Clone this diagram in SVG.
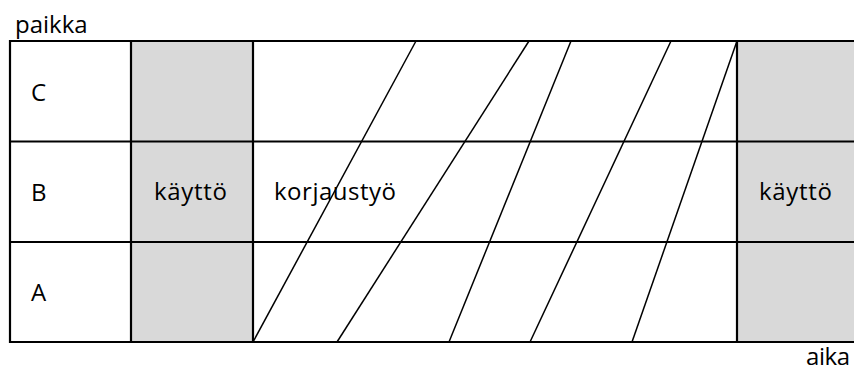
<svg xmlns="http://www.w3.org/2000/svg" width="854" height="374" viewBox="0 0 854 374">
<style>
.t{font-family:"Open Sans","Liberation Sans",sans-serif;font-size:24px;fill:#000}
.g{fill:#d9d9d9;stroke:none}
.grid{stroke:#000;stroke-width:2.2;fill:none}
.d{stroke:#000;stroke-width:1.5;fill:none}
</style>
<rect width="854" height="374" fill="#fff"/>
<g id="fills">
<rect class="g" x="131" y="41" width="122" height="301"/>
<rect class="g" x="737" y="41" width="117" height="301"/>
</g>
<g id="grid">
<path class="grid" d="M10,41H854M10,141.5H854M10,242H854M10,342H854M10,40V343M131,41V342M253,41V342M737,41V342"/>
</g>
<g id="connectors">
<line class="d" x1="253" y1="342" x2="416" y2="41"/>
<line class="d" x1="337" y1="342" x2="529" y2="41"/>
<line class="d" x1="449" y1="342" x2="571" y2="41"/>
<line class="d" x1="530" y1="342" x2="671" y2="41"/>
<line class="d" x1="632" y1="342" x2="737" y2="41"/>
</g>
<g id="labels">
<text class="t" x="15" y="33">paikka</text>
<text class="t" x="31" y="101">C</text>
<text class="t" x="31" y="201">B</text>
<text class="t" x="31" y="301">A</text>
<text class="t" x="154" y="200" textLength="73">käyttö</text>
<text class="t" x="274" y="200" textLength="122">korjaustyö</text>
<text class="t" x="759" y="200" textLength="73">käyttö</text>
<text class="t" x="806" y="365" textLength="44">aika</text>
</g>
</svg>
